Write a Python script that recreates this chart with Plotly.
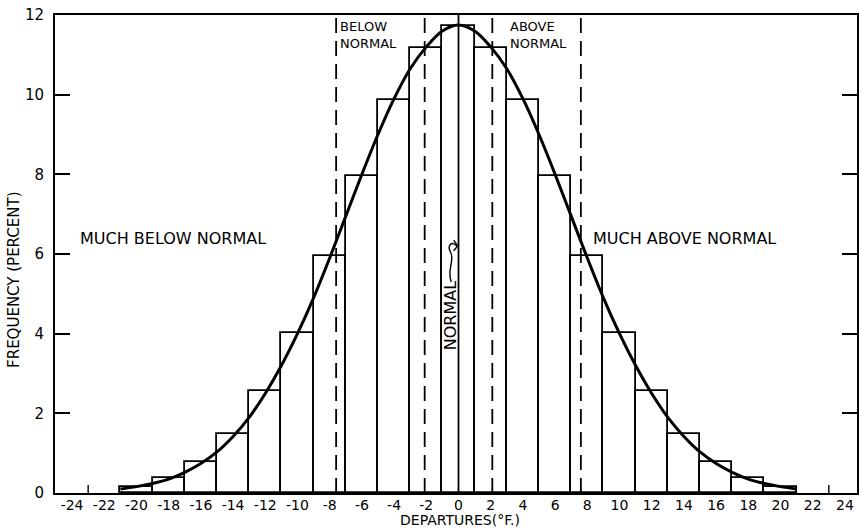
import plotly.graph_objects as go

# ---- data ----
bar_centers = [-20, -18, -16, -14, -12, -10, -8, -6, -4, -2, 0, 2, 4, 6, 8, 10, 12, 14, 16, 18, 20]
bar_freq = [0.16, 0.37, 0.78, 1.47, 2.56, 4.02, 5.96, 7.95, 9.87, 11.17, 11.72,
            11.17, 9.87, 7.95, 5.96, 4.02, 2.56, 1.47, 0.78, 0.37, 0.16]

curve_x = list(range(-21, 22))
curve_y = [0.10, 0.16, 0.24, 0.35, 0.52, 0.74, 1.03, 1.42, 1.90, 2.50, 3.20, 4.00, 4.90,
           5.90, 6.95, 8.00, 9.00, 9.90, 10.65, 11.20, 11.60, 11.75, 11.60, 11.20, 10.65,
           9.90, 9.00, 8.00, 6.95, 5.90, 4.90, 4.00, 3.20, 2.50, 1.90, 1.42, 1.03, 0.74,
           0.52, 0.35, 0.24, 0.16, 0.10]

class_limits = [-7.6, -2.1, 2.1, 7.6]     # dashed category boundaries
normal_line = [0]                          # solid centre line
minor_ticks = [-23, 23]

x_tickvals = list(range(-24, 25, 2))
x_ticktext = [("-" + str(abs(v))) if v < 0 else str(v) for v in x_tickvals]
y_tickvals = [0, 2, 4, 6, 8, 10, 12]

FONT = "DejaVu Sans"

fig = go.Figure()

fig.add_trace(go.Bar(
    x=bar_centers, y=bar_freq, width=2,
    marker=dict(color="white", line=dict(color="black", width=1.8)),
    hoverinfo="skip", showlegend=False,
))

fig.add_trace(go.Scatter(
    x=curve_x, y=curve_y, mode="lines",
    line=dict(color="black", width=3, shape="spline", smoothing=1.0),
    hoverinfo="skip", showlegend=False,
))

shapes = []
for xv in class_limits:
    shapes.append(dict(type="line", xref="x", yref="paper", x0=xv, x1=xv, y0=0, y1=1,
                       line=dict(color="black", width=1.8, dash="15px,8px")))
for xv in normal_line:
    shapes.append(dict(type="line", xref="x", yref="paper", x0=xv, x1=xv, y0=0, y1=1,
                       line=dict(color="black", width=1.8)))
for xv in minor_ticks:
    shapes.append(dict(type="line", xref="x", yref="y", x0=xv, x1=xv, y0=0, y1=0.2,
                       line=dict(color="black", width=1.4)))
# small curled arrow next to the "NORMAL" label
shapes.append(dict(type="path", xref="x", yref="y",
                   path="M -0.45,5.3 C -0.75,5.6 -0.2,5.85 -0.5,6.05 C -0.7,6.2 -0.45,6.35 -0.1,6.2",
                   line=dict(color="black", width=1.4)))
shapes.append(dict(type="path", xref="x", yref="y",
                   path="M -0.3,6.35 L -0.05,6.2 L -0.3,6.08",
                   line=dict(color="black", width=1.4)))

big_font = dict(family=FONT, size=16, color="black")
small_font = dict(family=FONT, size=13, color="black")
annotations = [
    dict(x=-23.65, y=6.39, xref="x", yref="y", text="MUCH BELOW NORMAL",
         showarrow=False, xanchor="left", yanchor="middle", font=big_font),
    dict(x=8.2, y=6.39, xref="x", yref="y", text="MUCH ABOVE NORMAL",
         showarrow=False, xanchor="left", yanchor="middle", font=big_font),
    dict(x=-7.5, y=11.95, xref="x", yref="y", text="BELOW<br>NORMAL", align="left",
         showarrow=False, xanchor="left", yanchor="top", font=small_font),
    dict(x=3.05, y=11.95, xref="x", yref="y", text="ABOVE<br>NORMAL", align="left",
         showarrow=False, xanchor="left", yanchor="top", font=small_font),
    dict(x=-0.5, y=4.45, xref="x", yref="y", text="NORMAL", textangle=-90,
         showarrow=False, xanchor="center", yanchor="middle", font=big_font),
    dict(x=-0.051, y=0.446, xref="paper", yref="paper", text="FREQUENCY (PERCENT)",
         textangle=-90, showarrow=False, xanchor="center", yanchor="middle",
         font=dict(family=FONT, size=15, color="black")),
    dict(x=0.505, y=-0.0565, xref="paper", yref="paper", text="DEPARTURES(°F.)",
         showarrow=False, xanchor="center", yanchor="middle",
         font=dict(family=FONT, size=14, color="black")),
]

fig.update_layout(
    width=859, height=529,
    margin=dict(l=55, r=2, t=15, b=36, autoexpand=False),
    paper_bgcolor="white", plot_bgcolor="white",
    bargap=0, showlegend=False,
    shapes=shapes, annotations=annotations,
    font=dict(family=FONT, size=14, color="black"),
)

fig.update_xaxes(
    range=[-25.06, 24.75], tickvals=x_tickvals, ticktext=x_ticktext,
    ticks="", showgrid=False, zeroline=False, automargin=False,
    showline=True, linecolor="black", linewidth=2, mirror=True,
    ticklabelstandoff=-2,
    tickfont=dict(family=FONT, size=14, color="black"),
)
fig.update_yaxes(
    range=[0, 12], tickvals=y_tickvals, automargin=False,
    ticks="inside", ticklen=15, tickwidth=1.6, tickcolor="black",
    showgrid=False, zeroline=False,
    showline=True, linecolor="black", linewidth=2, mirror="ticks",
    ticklabelstandoff=6,
    tickfont=dict(family=FONT, size=15, color="black"),
)

# remove the browser's default 8px body margin so the figure fills the window exactly
fig.write_html("out.html",
               config={"displayModeBar": False},
               post_script="document.body.style.margin='0';document.body.style.padding='0';")
